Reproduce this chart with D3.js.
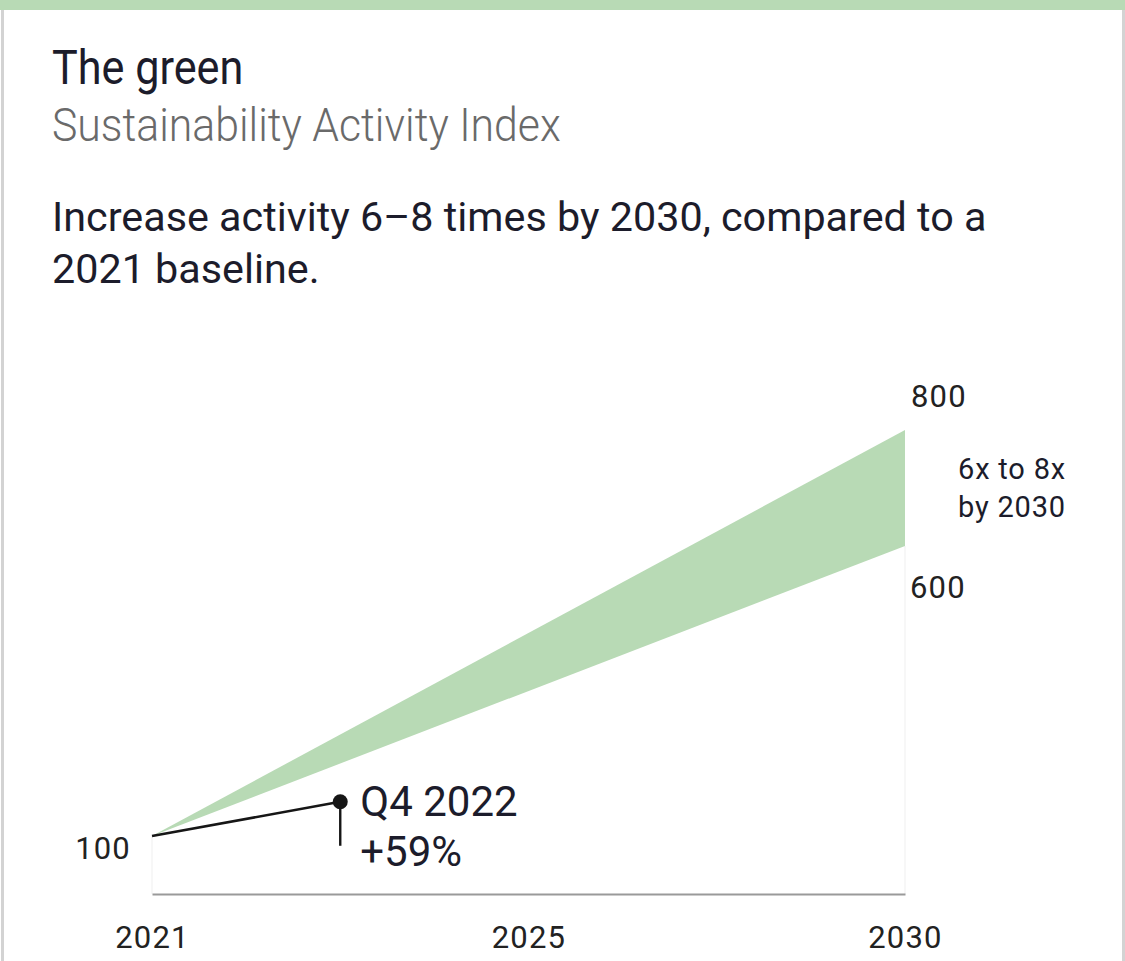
<!DOCTYPE html>
<html>
<head>
<meta charset="utf-8">
<script src="https://cdn.jsdelivr.net/npm/d3@7"></script>
<style>
  html, body { margin: 0; padding: 0; background: #ffffff; }
  svg { display: block; }
  text { font-family: Roboto, "Noto Sans", sans-serif; }
</style>
</head>
<body>
<svg id="chart" width="1125" height="961"></svg>
<script>
// Sustainability Activity Index: target band and actual progress
const tickYears = [2021, 2025, 2030];
const tickLabels = ["2021", "2025", "2030"];

// Target band: index 100 in 2021, 6x–8x (600–800) by 2030
const bandYears = [2021, 2030];
const bandLow = [100, 600];
const bandHigh = [100, 800];

// Actual progress (year, quarter reported; index value)
const progressLabels = ["2021", "Q4 2022"];
const progressYears = [2021, 2022];
const progressQuarters = [0, 4];
const progressValues = [100, 159];

const valueLabels = ["100", "600", "800"];
const valueLabelValues = [100, 600, 800];

const W = 1125, H = 961;
const svg = d3.select("#chart");

const green = "#b8dab5";
const ink = "#1c1c2b";

// card frame
svg.append("rect").attr("x", 0).attr("y", 0).attr("width", W).attr("height", H).attr("fill", "#fff");
svg.append("rect").attr("x", 1).attr("y", 0).attr("width", 3).attr("height", H).attr("fill", "#d3d3d3");
svg.append("rect").attr("x", W - 3).attr("y", 0).attr("width", 3).attr("height", H).attr("fill", "#d3d3d3");
svg.append("rect").attr("x", 0).attr("y", 0).attr("width", W).attr("height", 10).attr("fill", green);

// heading
svg.append("text").attr("x", 52).attr("y", 84)
  .attr("font-size", 48).attr("fill", ink)
  .attr("transform", "translate(52,0) scale(0.9,1) translate(-52,0)")
  .text("The green");
svg.append("text").attr("x", 52).attr("y", 141)
  .attr("font-size", 46).attr("fill", "#6a6a6a").attr("font-weight", 300)
  .attr("transform", "translate(52,0) scale(0.93,1) translate(-52,0)")
  .text("Sustainability Activity Index");

const body = svg.append("text").attr("font-size", 41.3).attr("fill", ink);
body.append("tspan").attr("x", 52).attr("y", 231).text("Increase activity 6–8 times by 2030, compared to a");
body.append("tspan").attr("x", 52).attr("y", 283).text("2021 baseline.");

// scales
const x = d3.scaleLinear().domain(tickYears).range([152, 528.5, 905]);
const y = d3.scaleLinear().domain([0, 800]).range([894, 430]);

// faint plot edges
svg.append("line")
  .attr("x1", x(2021)).attr("x2", x(2021)).attr("y1", y(bandLow[0])).attr("y2", y(0))
  .attr("stroke", "#efefef").attr("stroke-width", 1);
svg.append("line")
  .attr("x1", x(2030)).attr("x2", x(2030)).attr("y1", y(bandLow[1])).attr("y2", y(0))
  .attr("stroke", "#efefef").attr("stroke-width", 1);

// target band
const bandData = bandYears.map((yr, i) => ({ yr, lo: bandLow[i], hi: bandHigh[i] }));
svg.append("path").datum(bandData)
  .attr("fill", green)
  .attr("d", d3.area().x(d => x(d.yr)).y0(d => y(d.lo)).y1(d => y(d.hi)));

// x axis
const xAxis = d3.axisBottom(x).tickValues(tickYears)
  .tickFormat((d, i) => tickLabels[i]).tickSize(0).tickPadding(32);
const gx = svg.append("g").attr("transform", `translate(0,${y(0)})`).call(xAxis);
gx.select(".domain").attr("stroke", "#9a9a9a").attr("stroke-width", 2);
gx.selectAll("text").attr("font-size", 31).attr("letter-spacing", 1.2)
  .attr("fill", "#222").attr("font-family", "Roboto, sans-serif");

// value labels at the band ends and the baseline
const vl = svg.append("g").attr("font-size", 31).attr("letter-spacing", 1.2).attr("fill", "#222");
valueLabels.forEach((lab, i) => {
  const v = valueLabelValues[i];
  if (v === 100) {
    vl.append("text").attr("x", x(2021) - 21).attr("y", y(v) + 23)
      .attr("text-anchor", "end").text(lab);
  } else if (v === 800) {
    vl.append("text").attr("x", x(2030) + 6).attr("y", y(v) - 23).text(lab);
  } else {
    vl.append("text").attr("x", x(2030) + 5).attr("y", y(v) + 52).text(lab);
  }
});

const note = svg.append("text").attr("font-size", 29).attr("letter-spacing", 0.8)
  .attr("fill", ink).attr("text-anchor", "middle");
note.append("tspan").attr("x", 1012).attr("y", 479).text("6x to 8x");
note.append("tspan").attr("x", 1012).attr("y", 517).text("by 2030");

// progress line
const progress = progressValues.map((v, i) => ({
  label: progressLabels[i],
  t: progressYears[i] + progressQuarters[i] / 4,
  v
}));
svg.append("path").datum(progress)
  .attr("fill", "none").attr("stroke", "#161616").attr("stroke-width", 2.6)
  .attr("d", d3.line().x(d => x(d.t)).y(d => y(d.v)));

const last = progress[progress.length - 1];
const px = x(last.t), py = y(last.v);
svg.append("line").attr("x1", px).attr("x2", px).attr("y1", py).attr("y2", py + 44)
  .attr("stroke", "#161616").attr("stroke-width", 2.4);
svg.append("circle").attr("cx", px).attr("cy", py).attr("r", 7.5).attr("fill", "#161616");

const growth = Math.round((last.v / progress[0].v - 1) * 100);
const ann = svg.append("text").attr("font-size", 42).attr("fill", ink);
ann.append("tspan").attr("x", px + 20).attr("y", py + 14).text(last.label);
ann.append("tspan").attr("x", px + 20).attr("y", py + 64).text(`+${growth}%`);
</script>
</body>
</html>
